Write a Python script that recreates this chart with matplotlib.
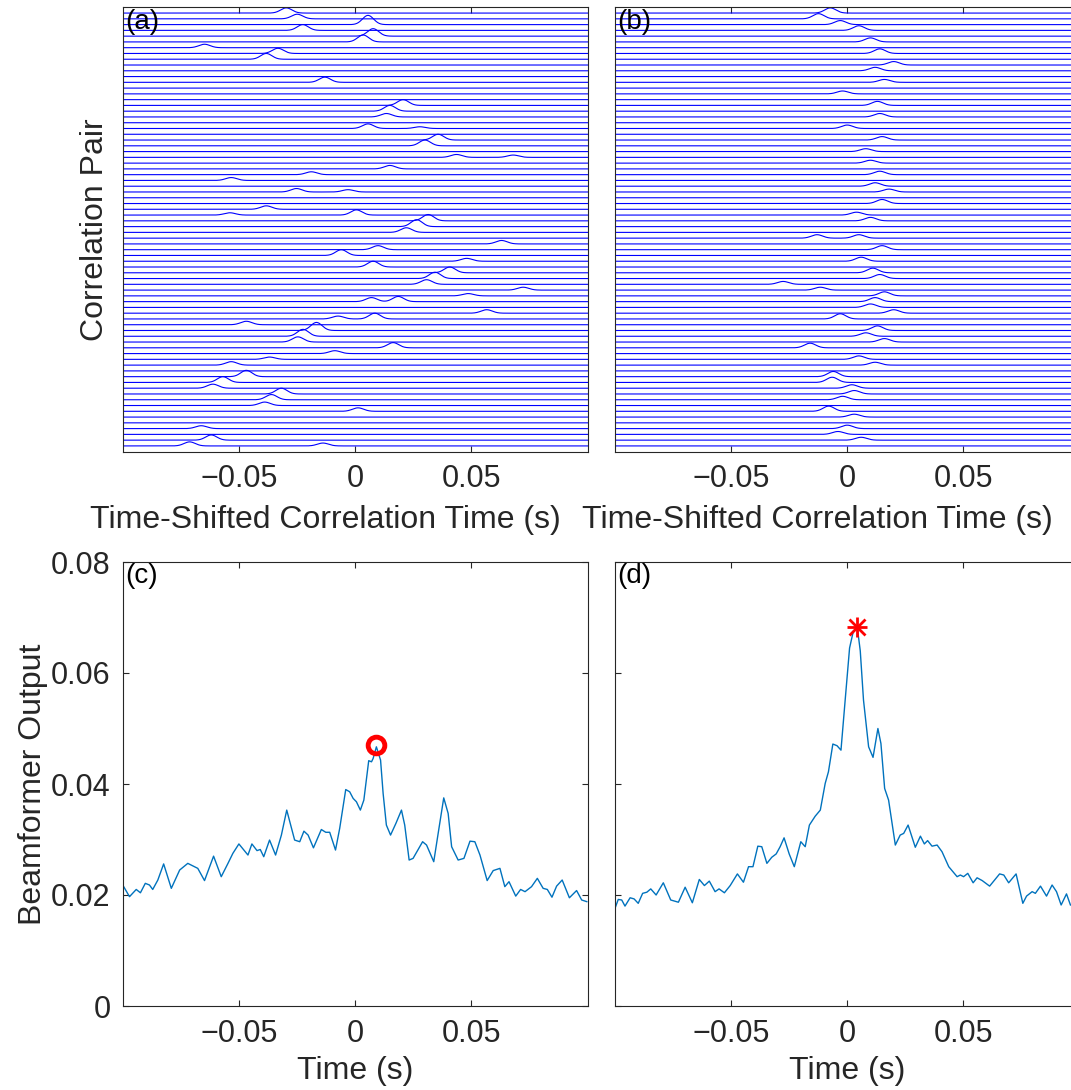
import numpy as np
import matplotlib
matplotlib.use('Agg')
import matplotlib.pyplot as plt

plt.rcParams['font.family'] = ['Liberation Sans', 'DejaVu Sans']
plt.rcParams['axes.unicode_minus'] = False

# ---------------- data ----------------
N_PAIRS = 76
XLIM = (-0.1, 0.1)
xtick_vals = [-0.05, 0, 0.05]
xtick_labels = ['\u22120.05', '0', '0.05']
ytick_vals = [0, 0.02, 0.04, 0.06, 0.08]
ytick_labels = ['0', '0.02', '0.04', '0.06', '0.08']

# panel (a): correlation peaks (row from top, time [s], amplitude [row spacings])
a_row = [0, 1, 2, 3, 4, 5, 6, 7, 8, 12, 16, 17, 18, 20, 20, 22, 23, 25, 25, 27,
         28, 29, 31, 31, 34, 35, 35, 36, 37, 38, 40, 41, 42, 43, 44, 45, 46, 47,
         48, 49, 50, 50, 52, 53, 53, 54, 55, 56, 57, 58, 59, 60, 61, 63, 64, 65,
         66, 67, 68, 69, 72, 74, 75, 75]
a_t = [-0.0297, -0.0250, 0.0055, -0.0226, 0.0077, 0.0034, -0.0649, -0.0333,
       -0.0383, -0.0131, 0.0206, 0.0149, 0.0134, 0.0055, 0.0278, 0.0357, 0.0300,
       0.0436, 0.0680, 0.0149, -0.0189, -0.0534, -0.0253, -0.0031, -0.0383,
       0.0005, -0.0540, 0.0314, 0.0264, 0.0220, 0.0630, 0.0098, -0.0060, 0.0480,
       0.0077, 0.0407, 0.0343, 0.0307, 0.0723, 0.0486, 0.0070, 0.0185, 0.0566,
       0.0084, -0.0074, -0.0469, -0.0167, -0.0225, -0.0247, 0.0163, -0.0088,
       -0.0369, -0.0534, -0.0469, -0.0570, -0.0613, -0.0318, -0.0361, -0.0390,
       0.0012, -0.0663, -0.0620, -0.0713, -0.0139]
a_amp = [0.9, 0.8, 1.6, 1.0, 1.3, 1.2, 0.6, 0.9, 1.0, 0.9, 1.0, 1.0, 0.6, 0.8,
         0.3, 1.0, 1.0, 0.5, 0.4, 0.6, 0.5, 0.5, 0.6, 0.4, 0.6, 0.9, 0.4, 1.1,
         1.2, 0.8, 0.6, 0.7, 1.0, 0.5, 1.0, 1.0, 1.1, 0.8, 0.5, 0.4, 0.7, 0.9,
         0.6, 1.0, 0.5, 0.6, 1.4, 1.2, 0.9, 0.9, 0.5, 0.4, 0.6, 1.1, 1.0, 0.7,
         1.0, 0.9, 0.6, 0.6, 0.5, 0.9, 0.7, 0.5]

# panel (b): time-shifted correlation peaks
b_row = [0, 1, 2, 3, 5, 7, 9, 10, 12, 14, 16, 18, 20, 22, 24, 26, 28, 30, 31,
         33, 35, 36, 39, 39, 41, 43, 45, 46, 47, 48, 49, 50, 51, 52, 53, 55, 56,
         57, 58, 60, 61, 63, 64, 65, 66, 67, 69, 70, 72, 73, 74]
b_t = [-0.0073, -0.0124, -0.0030, 0.0050, 0.0100, 0.0140, 0.0200, 0.0120,
       0.0160, -0.0020, 0.0130, 0.0140, 0.0000, 0.0150, 0.0080, 0.0100, 0.0140,
       0.0120, 0.0180, 0.0150, 0.0040, 0.0100, -0.0130, 0.0050, 0.0150, 0.0060,
       0.0110, 0.0140, -0.0276, -0.0116, 0.0160, 0.0120, 0.0100, 0.0200,
       -0.0030, 0.0130, 0.0080, 0.0160, -0.0160, 0.0050, 0.0120, -0.0060,
       -0.0065, 0.0020, 0.0030, -0.0020, -0.0080, 0.0030, 0.0000, -0.0040,
       0.0060]
b_amp = [0.9, 0.9, 0.7, 0.8, 0.7, 0.8, 0.6, 0.6, 0.5, 0.5, 0.7, 0.6, 0.6, 0.6,
         0.5, 0.5, 0.6, 0.6, 0.5, 0.7, 0.5, 0.6, 0.6, 0.6, 0.7, 0.7, 0.8, 0.7,
         0.5, 0.5, 0.7, 0.7, 0.6, 0.6, 0.9, 0.8, 0.6, 0.6, 0.8, 0.6, 0.5, 0.9,
         0.9, 0.6, 0.6, 0.6, 0.9, 0.5, 0.6, 0.5, 0.5]

# panel (c): beamformer output, unshifted
c_t = [-0.0997, -0.0972, -0.0943, -0.0925, -0.0904, -0.0886, -0.0872, -0.0850,
       -0.0825, -0.0792, -0.0756, -0.0721, -0.0678, -0.0649, -0.0610, -0.0577,
       -0.0548, -0.0527, -0.0501, -0.0462, -0.0445, -0.0423, -0.0409, -0.0394,
       -0.0369, -0.0343, -0.0318, -0.0295, -0.0261, -0.0239, -0.0221, -0.0203,
       -0.0180, -0.0146, -0.0127, -0.0110, -0.0085, -0.0067, -0.0041, -0.0024,
       -0.0009, 0.0005, 0.0022, 0.0037, 0.0058, 0.0070, 0.0077, 0.0091, 0.0109,
       0.0120, 0.0134, 0.0152, 0.0175, 0.0199, 0.0213, 0.0232, 0.0249, 0.0290,
       0.0307, 0.0338, 0.0357, 0.0381, 0.0400, 0.0415, 0.0443, 0.0468, 0.0494,
       0.0515, 0.0537, 0.0568, 0.0594, 0.0623, 0.0644, 0.0662, 0.0691, 0.0712,
       0.0731, 0.0759, 0.0784, 0.0809, 0.0827, 0.0847, 0.0867, 0.0891, 0.0922,
       0.0953, 0.0975, 0.0997]
c_v = [0.0215, 0.0197, 0.0210, 0.0204, 0.0221, 0.0218, 0.0210, 0.0227, 0.0256,
       0.0212, 0.0245, 0.0257, 0.0248, 0.0226, 0.0270, 0.0233, 0.0257, 0.0275,
       0.0292, 0.0272, 0.0292, 0.0280, 0.0282, 0.0269, 0.0299, 0.0272, 0.0308,
       0.0353, 0.0299, 0.0296, 0.0315, 0.0308, 0.0285, 0.0318, 0.0313, 0.0313,
       0.0281, 0.0320, 0.0390, 0.0386, 0.0374, 0.0368, 0.0353, 0.0371, 0.0442,
       0.0440, 0.0446, 0.0467, 0.0443, 0.0383, 0.0326, 0.0308, 0.0329, 0.0353,
       0.0326, 0.0263, 0.0266, 0.0296, 0.0290, 0.0260, 0.0311, 0.0375, 0.0347,
       0.0287, 0.0263, 0.0266, 0.0297, 0.0296, 0.0272, 0.0226, 0.0244, 0.0248,
       0.0215, 0.0224, 0.0198, 0.0210, 0.0206, 0.0215, 0.0230, 0.0212, 0.0210,
       0.0196, 0.0216, 0.0227, 0.0195, 0.0208, 0.0191, 0.0188]
c_peak = (0.0091, 0.0470)

# panel (d): beamformer output, time-shifted
d_t = [-0.1000, -0.0986, -0.0971, -0.0957, -0.0935, -0.0918, -0.0900, -0.0881,
       -0.0863, -0.0846, -0.0823, -0.0792, -0.0760, -0.0727, -0.0698, -0.0667,
       -0.0637, -0.0615, -0.0594, -0.0569, -0.0552, -0.0529, -0.0504, -0.0473,
       -0.0447, -0.0425, -0.0406, -0.0385, -0.0368, -0.0346, -0.0325, -0.0306,
       -0.0289, -0.0272, -0.0250, -0.0228, -0.0200, -0.0181, -0.0163, -0.0138,
       -0.0116, -0.0095, -0.0081, -0.0062, -0.0044, -0.0027, -0.0009, 0.0010,
       0.0026, 0.0043, 0.0056, 0.0070, 0.0092, 0.0111, 0.0132, 0.0145, 0.0161,
       0.0178, 0.0207, 0.0228, 0.0243, 0.0262, 0.0293, 0.0315, 0.0332, 0.0346,
       0.0365, 0.0387, 0.0408, 0.0437, 0.0473, 0.0487, 0.0501, 0.0519, 0.0542,
       0.0559, 0.0581, 0.0613, 0.0656, 0.0674, 0.0695, 0.0727, 0.0756, 0.0772,
       0.0796, 0.0810, 0.0832, 0.0858, 0.0882, 0.0901, 0.0921, 0.0944, 0.0961]
d_v = [0.0176, 0.0192, 0.0191, 0.0180, 0.0195, 0.0193, 0.0185, 0.0203, 0.0205,
       0.0211, 0.0200, 0.0222, 0.0191, 0.0187, 0.0214, 0.0186, 0.0228, 0.0217,
       0.0225, 0.0206, 0.0211, 0.0204, 0.0217, 0.0238, 0.0223, 0.0251, 0.0251,
       0.0288, 0.0287, 0.0257, 0.0268, 0.0274, 0.0287, 0.0303, 0.0274, 0.0251,
       0.0296, 0.0287, 0.0326, 0.0342, 0.0353, 0.0401, 0.0422, 0.0472, 0.0469,
       0.0461, 0.0551, 0.0645, 0.0675, 0.0683, 0.0640, 0.0551, 0.0467, 0.0448,
       0.0500, 0.0473, 0.0392, 0.0371, 0.0290, 0.0308, 0.0311, 0.0326, 0.0286,
       0.0306, 0.0292, 0.0298, 0.0288, 0.0290, 0.0278, 0.0251, 0.0233, 0.0236,
       0.0233, 0.0239, 0.0222, 0.0231, 0.0226, 0.0216, 0.0238, 0.0236, 0.0222,
       0.0238, 0.0185, 0.0198, 0.0206, 0.0203, 0.0216, 0.0198, 0.0218, 0.0206,
       0.0182, 0.0202, 0.0182]
d_peak = (0.0043, 0.0683)

# ---------------- figure ----------------
W, H = 1071, 1090
fig = plt.figure(figsize=(W / 100, H / 100), dpi=100)


def ax_px(l, t, r, b):
    return fig.add_axes([l / W, 1 - b / H, (r - l) / W, (b - t) / H])


SPINE = '#262626'
TICK_FS = 22
LABEL_FS = 23


def style(ax):
    for s in ax.spines.values():
        s.set_color(SPINE)
        s.set_linewidth(0.8)
    ax.tick_params(direction='in', top=True, right=True, length=4.3, width=0.8,
                   color=SPINE, labelsize=TICK_FS, labelcolor='#262626', pad=9)
    ax.set_xlim(*XLIM)
    ax.set_xticks(xtick_vals)
    ax.set_xticklabels(xtick_labels)


t_grid = np.linspace(XLIM[0], XLIM[1], 1201)
SIGMA = 0.0024


def traces(ax, rows, ts, amps):
    for k in range(N_PAIRS):
        y = np.full_like(t_grid, float(N_PAIRS - k))
        for r, t0, a in zip(rows, ts, amps):
            if r == k:
                y = y + a * np.exp(-0.5 * ((t_grid - t0) / SIGMA) ** 2)
        ax.plot(t_grid, y, color='#0000ff', lw=0.8, solid_joinstyle='round')
    ax.set_ylim(0, N_PAIRS + 1)
    ax.set_yticks([])


axA = ax_px(123, 7.3, 587.5, 451.7)
axB = ax_px(615, 7.3, 1079.5, 451.7)
axC = ax_px(123, 562, 587.5, 1006)
axD = ax_px(615, 562, 1079.5, 1006)

for ax in (axA, axB, axC, axD):
    style(ax)

traces(axA, a_row, a_t, a_amp)
traces(axB, b_row, b_t, b_amp)
axA.tick_params(left=False, right=False)
axB.tick_params(left=False, right=False)

axA.set_ylabel('Correlation Pair', fontsize=LABEL_FS, color='#262626')
axA.yaxis.set_label_coords(-0.028, 0.5)
for ax in (axA, axB):
    ax.set_xlabel('Time-Shifted Correlation Time (s)', fontsize=LABEL_FS, color='#262626')
    ax.xaxis.set_label_coords(0.435, -0.12)

LINE = '#0072BD'
axC.plot(c_t, c_v, color=LINE, lw=1.0)
axC.plot([c_peak[0]], [c_peak[1]], 'o', ms=12, mfc='none', mec='#ff0000', mew=3.5)
axD.plot(d_t, d_v, color=LINE, lw=1.0)
axD.plot([d_peak[0]], [d_peak[1]], '+', ms=15, color='#ff0000', mew=2)
axD.plot([d_peak[0]], [d_peak[1]], 'x', ms=11, color='#ff0000', mew=2)

for ax in (axC, axD):
    ax.set_ylim(0, 0.08)
    ax.set_yticks(ytick_vals)
    ax.set_xlabel('Time (s)', fontsize=LABEL_FS, color='#262626')
    ax.xaxis.set_label_coords(0.5, -0.113)
axC.set_yticklabels(ytick_labels)
axD.set_yticklabels([])
axC.set_ylabel('Beamformer Output', fontsize=LABEL_FS, color='#262626')
axC.yaxis.set_label_coords(-0.162, 0.5)

for ax, lab in zip((axA, axB, axC, axD), ('(a)', '(b)', '(c)', '(d)')):
    ax.text(0.004, 0.997, lab, transform=ax.transAxes, ha='left', va='top',
            fontsize=20, color='#000000')

fig.savefig('out.png', dpi=100)
